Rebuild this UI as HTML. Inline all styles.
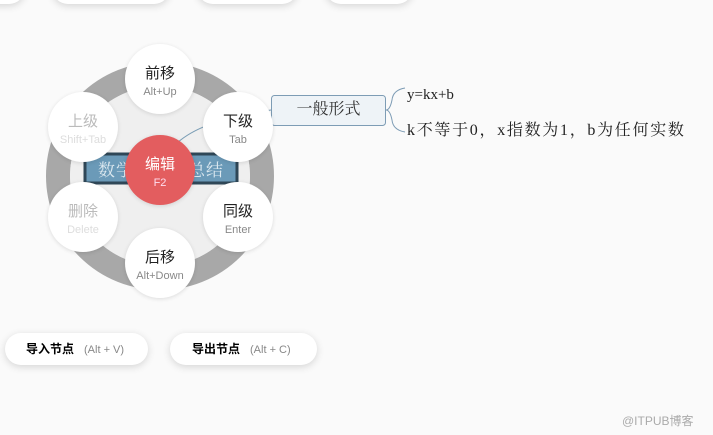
<!DOCTYPE html>
<html><head><meta charset="utf-8"><style>
body{margin:0;width:713px;height:435px;background:#fafafa;position:relative;overflow:hidden;font-family:"Liberation Sans","Noto Sans CJK SC",sans-serif}
.pill{position:absolute;background:#fff;border-radius:16px;box-shadow:0 2px 8px rgba(0,0,0,.15)}
.c{position:absolute;width:70px;height:70px;border-radius:50%;background:#fff;box-shadow:0 1px 4px rgba(0,0,0,.12);text-align:center;color:#222}
.c b{display:block;font-weight:normal;font-size:15px;margin-top:21px;line-height:18px}
.c i{display:block;font-style:normal;font-size:11px;color:#888;line-height:18px}
.d{color:#ccc!important}.d i{color:#ddd}
.serif{font-family:"Liberation Serif","Noto Serif CJK SC",serif}
</style></head><body>
<div class="pill" style="left:-20px;top:-28px;width:45px;height:32px"></div>
<div class="pill" style="left:52px;top:-28px;width:118px;height:32px"></div>
<div class="pill" style="left:197px;top:-28px;width:101px;height:32px"></div>
<div class="pill" style="left:325px;top:-28px;width:88px;height:32px"></div>

<svg style="position:absolute;left:0;top:0" width="713" height="435">
<circle cx="160" cy="176" r="102" fill="none" stroke="#a8a8a8" stroke-width="24"/>
<circle cx="160" cy="176" r="90" fill="#efefef"/>
<rect x="85" y="154" width="152" height="29" fill="#6b9ab8" stroke="#2f4757" stroke-width="3"/>
<path d="M175 145 Q200 120 271 110" fill="none" stroke="#7a9db5" stroke-width="1"/>
<rect x="271.5" y="95.5" width="114" height="30" rx="3" fill="#eef3f7" stroke="#7d9cb5"/>
<path d="M405 88 Q393 90 392 100 Q390 110 386 110 Q390 110 392 120 Q393 130 405 132" fill="none" stroke="#7d9cb5"/>
</svg>
<div class="serif" style="position:absolute;left:98px;top:156px;font-size:17px;color:#dce8ef;letter-spacing:1px">数学<span style="margin-left:54px">总结</span></div>
<div class="serif" style="position:absolute;left:271px;top:97px;width:115px;text-align:center;font-size:16px;line-height:26px;color:#333">一般形式</div>
<div class="serif" style="position:absolute;left:407px;top:87px;font-size:15px;color:#222">y=kx+b</div>
<div class="serif" style="position:absolute;left:407px;top:117px;font-size:16px;color:#222;letter-spacing:1.7px">k不等于0，x指数为1，b为任何实数</div>

<div class="c" style="left:125px;top:44px"><b>前移</b><i>Alt+Up</i></div>
<div class="c" style="left:203px;top:92px"><b>下级</b><i>Tab</i></div>
<div class="c" style="left:203px;top:182px"><b>同级</b><i>Enter</i></div>
<div class="c" style="left:125px;top:228px"><b>后移</b><i>Alt+Down</i></div>
<div class="c d" style="left:48px;top:182px"><b style="color:#bbb">删除</b><i>Delete</i></div>
<div class="c d" style="left:48px;top:92px"><b style="color:#bbb">上级</b><i>Shift+Tab</i></div>
<div class="c" style="left:125px;top:135px;background:#e35d5f;color:#fff"><b>编辑</b><i style="color:#fde">F2</i></div>

<div class="pill" style="left:5px;top:333px;width:143px;height:32px;font-size:12px;line-height:32px"><b style="margin-left:21px">导入节点</b><span style="color:#888;margin-left:10px;font-size:11px">(Alt + V)</span></div>
<div class="pill" style="left:170px;top:333px;width:147px;height:32px;font-size:12px;line-height:32px"><b style="margin-left:22px">导出节点</b><span style="color:#888;margin-left:10px;font-size:11px">(Alt + C)</span></div>
<div style="position:absolute;left:622px;top:412px;font-size:12px;color:#aaa">@ITPUB博客</div>
</body></html>
